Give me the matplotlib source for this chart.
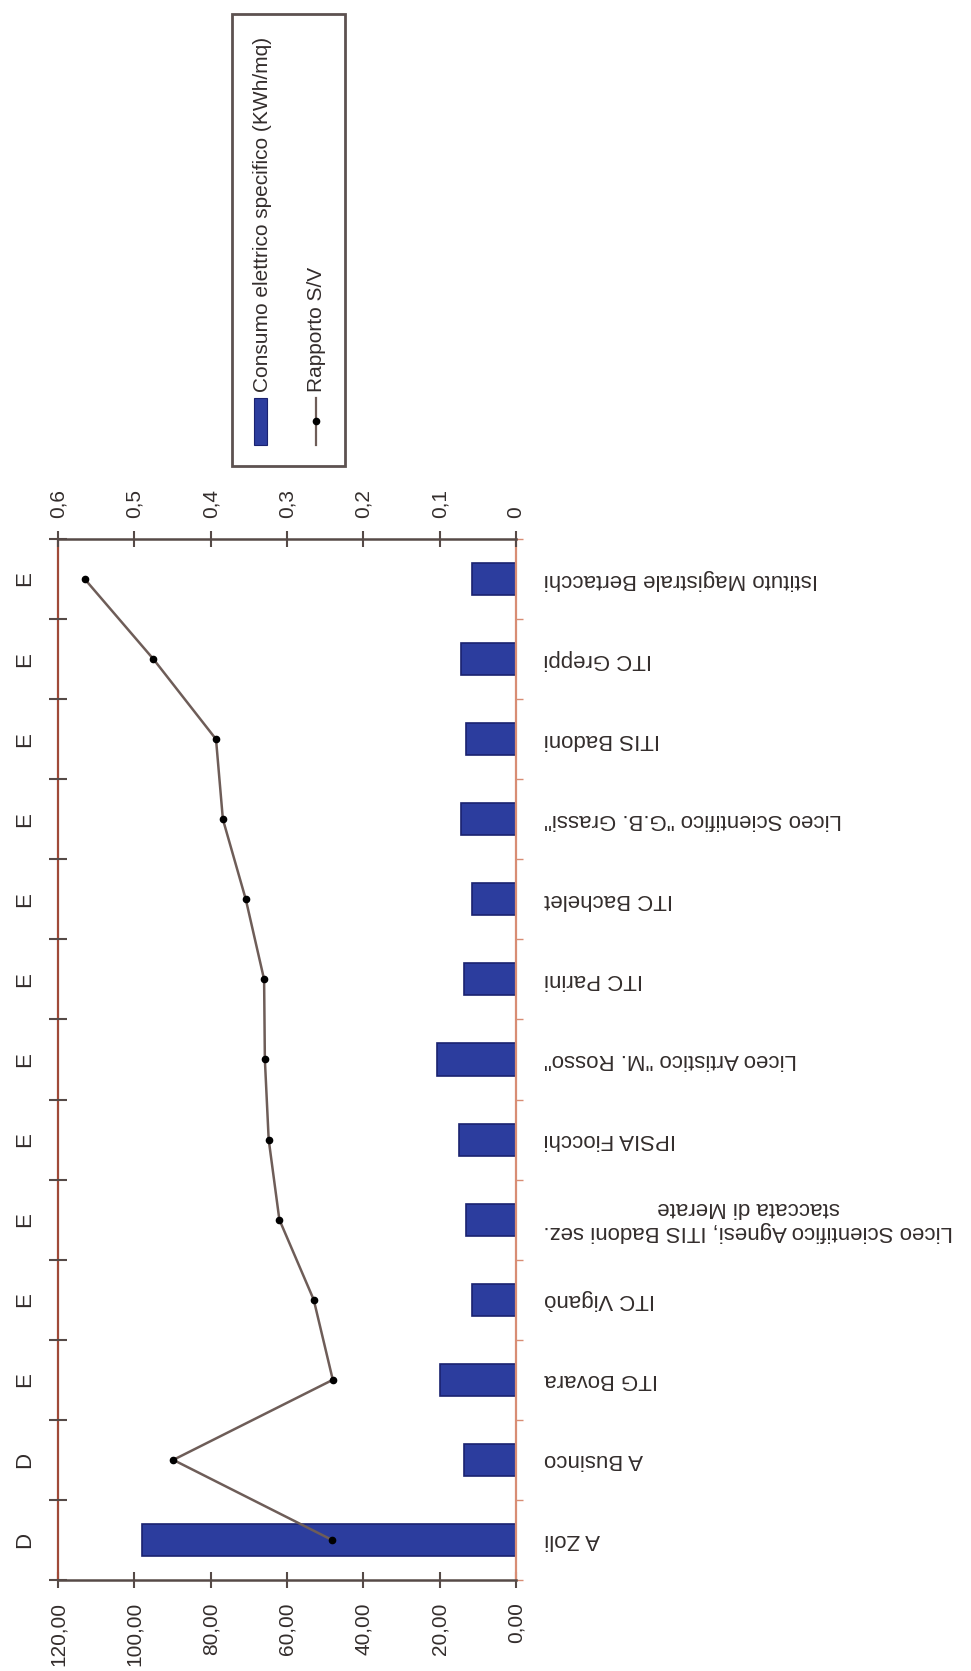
import numpy as np
import matplotlib.pyplot as plt
from matplotlib.patches import Rectangle
from matplotlib.lines import Line2D
from matplotlib.ticker import MultipleLocator, FixedLocator, FuncFormatter

plt.rcParams['font.family'] = ['Liberation Sans', 'DejaVu Sans']

# data, bottom to top as drawn (rotated chart)
schools = [
    'A Zoli',
    'A Businco',
    'ITG Bovara',
    'ITC Viganò',
    'Liceo Scientifico Agnesi, ITIS Badoni sez.\nstaccata di Merate',
    'IPSIA Fiocchi',
    'Liceo Artistico "M. Rosso"',
    'ITC Parini',
    'ITC Bachelet',
    'Liceo Scientifico "G.B. Grassi"',
    'ITIS Badoni',
    'ITC Greppi',
    'Istituto Magistrale Bertacchi',
]
energy_class = ['D', 'D', 'E', 'E', 'E', 'E', 'E', 'E', 'E', 'E', 'E', 'E', 'E']
consumo = [98.0, 13.6, 19.9, 11.5, 13.1, 15.0, 20.8, 13.6, 11.5, 14.3, 13.1, 14.4, 11.5]
rapporto_sv = [0.241, 0.449, 0.240, 0.265, 0.310, 0.324, 0.329, 0.330, 0.354, 0.384, 0.393, 0.475, 0.565]
series_names = ['Consumo elettrico specifico (KWh/mq)', 'Rapporto S/V']

bar_color = '#2c3d9e'
bar_edge = '#1a2270'
line_color = '#6e5d58'
axis_dark = '#564a47'
text_color = '#332d2c'

W, H = 971, 1671
fig = plt.figure(figsize=(W / 100, H / 100), dpi=100)
ax = fig.add_axes([58 / W, 1 - 1580 / H, 458 / W, 1041 / H])

pos = np.arange(len(schools))
ax.barh(pos, consumo, height=0.4, color=bar_color, edgecolor=bar_edge, linewidth=1.2, zorder=2)
ax.set_xlim(120, 0)
ax.set_ylim(-0.5, len(schools) - 0.5)

# primary value axis (bottom of picture)
ax.xaxis.set_major_locator(MultipleLocator(20))
ax.xaxis.set_major_formatter(FuncFormatter(lambda v, p: f"{v:.2f}".replace('.', ',')))
ax.tick_params(axis='x', direction='inout', length=12, width=1.5, color=axis_dark,
               pad=10, labelsize=15, labelrotation=90, labelcolor=text_color)

# category labels on the right, upside down
ax.yaxis.tick_right()
ax.set_yticks(pos, labels=schools)
ax.yaxis.set_minor_locator(FixedLocator(np.arange(len(schools) + 1) - 0.5))
ax.tick_params(axis='y', which='major', length=0, pad=20, labelsize=16, labelcolor=text_color)
ax.tick_params(axis='y', which='minor', direction='out', length=5, width=1, color='#d88d74',
               right=True, left=False)
for lbl in ax.get_yticklabels():
    lbl.set_rotation(180)
    lbl.set_ha('left')
    lbl.set_va('center')
    lbl.set_multialignment('center')

ax.spines['top'].set_visible(False)
ax.spines['left'].set_color('#a04a38')
ax.spines['left'].set_linewidth(1.6)
ax.spines['right'].set_color('#d88d74')
ax.spines['right'].set_linewidth(1.6)
ax.spines['bottom'].set_color(axis_dark)
ax.spines['bottom'].set_linewidth(1.8)

# secondary axis for S/V ratio (top of picture)
ax2 = ax.twiny()
ax2.plot(rapporto_sv, pos, color=line_color, lw=1.8, marker='o', ms=4.5,
         mfc='black', mec='black', zorder=3)
ax2.set_xlim(0.6, 0)
ax2.xaxis.set_major_locator(MultipleLocator(0.1))
ax2.xaxis.set_major_formatter(FuncFormatter(lambda v, p: f"{v:g}".replace('.', ',')))
ax2.tick_params(axis='x', direction='inout', length=12, width=1.5, color=axis_dark,
                pad=9, labelsize=15, labelrotation=90, labelcolor=text_color)
for side in ['left', 'right', 'bottom']:
    ax2.spines[side].set_visible(False)
ax2.spines['top'].set_color(axis_dark)
ax2.spines['top'].set_linewidth(1.8)

# crossing ticks on the left border between categories
ax2.yaxis.set_visible(True)
ax2.yaxis.set_ticks_position('left')
ax2.tick_params(axis='y', which='major', length=0, labelleft=False, labelright=False)
ax2.tick_params(axis='y', which='minor', direction='inout', length=13, width=1.5,
                color=axis_dark, labelleft=False)

# energy class letters along the left edge
for p, cls in zip(pos, energy_class):
    ax.text(-0.072, p, cls, transform=ax.get_yaxis_transform(), rotation=90,
            ha='center', va='center', fontsize=16, color=text_color)

# legend, drawn rotated like the rest of the chart
fig.add_artist(Rectangle((232 / W, 1 - 466 / H), 113 / W, 452 / H, transform=fig.transFigure,
                         fill=False, edgecolor='#5d5250', linewidth=2))
fig.add_artist(Rectangle((254 / W, 1 - 445 / H), 13 / W, 47 / H, transform=fig.transFigure,
                         facecolor=bar_color, edgecolor=bar_edge, linewidth=0.8))
fig.add_artist(Line2D([316 / W, 316 / W], [1 - 445 / H, 1 - 398 / H], transform=fig.transFigure,
                      color=line_color, lw=1.6))
fig.add_artist(Line2D([316 / W], [1 - 421 / H], transform=fig.transFigure, marker='o', ms=4.5,
                      mfc='black', mec='black', ls='none'))
fig.text(262 / W, 1 - 392 / H, series_names[0], rotation=90, ha='center', va='bottom',
         fontsize=15, color=text_color)
fig.text(316 / W, 1 - 392 / H, series_names[1], rotation=90, ha='center', va='bottom',
         fontsize=15, color=text_color)

fig.savefig('out.png', dpi=100, facecolor='white')
